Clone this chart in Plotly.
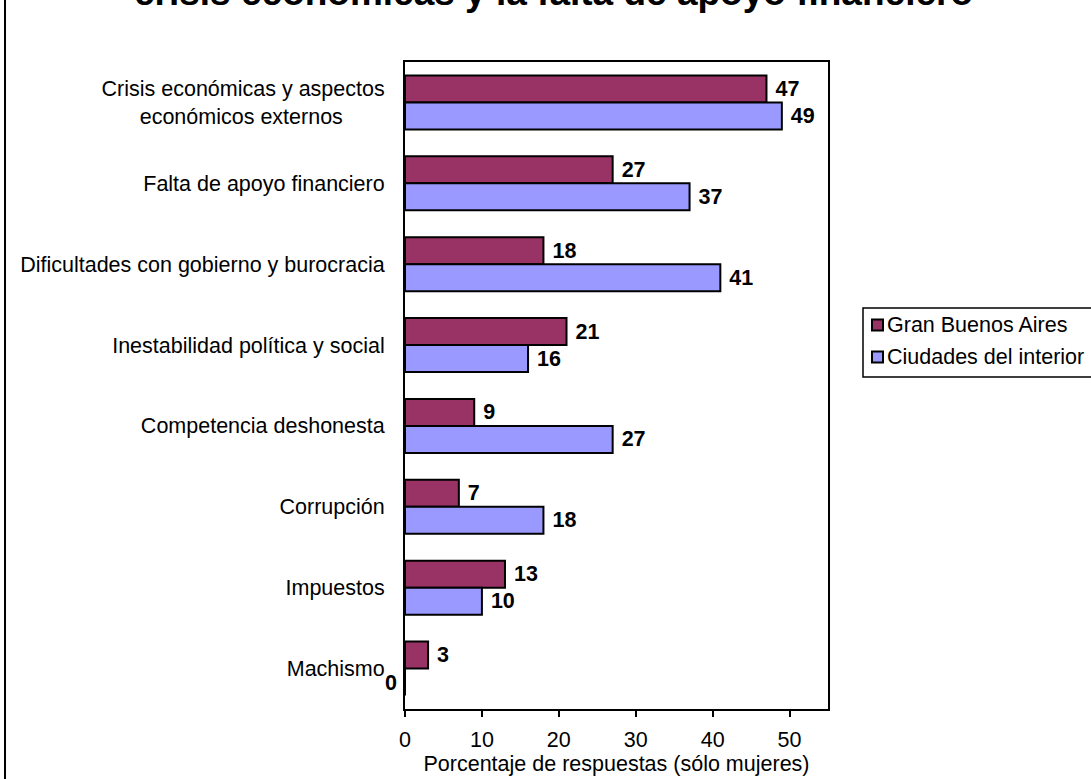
import plotly.graph_objects as go

# Obstacle categories, listed top to bottom
categorias = [
    "Crisis económicas y aspectos<br>económicos externos" + "&nbsp;" * 7,
    "Falta de apoyo financiero",
    "Dificultades con gobierno y burocracia",
    "Inestabilidad política y social",
    "Competencia deshonesta",
    "Corrupción",
    "Impuestos",
    "Machismo",
]
gran_buenos_aires = [47, 27, 18, 21, 9, 7, 13, 3]
ciudades_interior = [49, 37, 41, 16, 27, 18, 10, 0]
series = ["Gran Buenos Aires", "Ciudades del interior"]

FONT = "Arial, Liberation Sans, sans-serif"
FS = 21.5
COLORS = ["#993366", "#9999FF"]

# plot area in page pixels
L, R, T, B = 405, 828, 62, 709


def px(xp):
    return (xp - L) / (R - L)


def py(yp):
    return (B - yp) / (B - T)


def etiquetas(valores):
    # a leading space keeps the value clear of the bar end
    return [f" {v}" if v else "" for v in valores]


fig = go.Figure()
for name, vals, col in zip(series, [gran_buenos_aires, ciudades_interior], COLORS):
    fig.add_trace(go.Bar(
        y=categorias, x=vals, orientation="h", name=name,
        marker=dict(color=col, line=dict(color="black", width=2)),
        text=etiquetas(vals), textposition="outside",
        textfont=dict(family=FONT, size=FS, color="black", weight="bold"),
        cliponaxis=False,
    ))

# zero-valued bar: its label sits just left of the axis
for cat, v in zip(categorias, ciudades_interior):
    if v == 0:
        fig.add_annotation(
            x=v, y=cat, xref="x", yref="y", text=f"<b>{v}</b>",
            showarrow=False, xanchor="right", xshift=-6, yshift=-14,
            font=dict(family=FONT, size=FS, color="black"),
        )

# title, running off the top of the page
fig.add_annotation(
    x=px(553), y=py(15), xref="paper", yref="paper",
    text="<b>crisis económicas y la falta de apoyo financiero</b>",
    showarrow=False, xanchor="center", yanchor="bottom",
    font=dict(family=FONT, size=37, color="black"),
)

# outer frame edge on the left
fig.add_shape(
    type="line", xref="paper", yref="paper",
    x0=px(5), x1=px(5), y0=-0.2, y1=1.2,
    line=dict(color="black", width=2),
)

# legend box with swatches
fig.add_shape(
    type="rect", xref="paper", yref="paper",
    x0=px(863), x1=px(1110), y0=py(377), y1=py(308),
    line=dict(color="black", width=1.5), fillcolor="white",
)
for i, (name, col) in enumerate(zip(series, COLORS)):
    yc = 325 + 32 * i
    fig.add_shape(
        type="rect", xref="paper", yref="paper",
        x0=px(872), x1=px(883), y0=py(yc + 5.5), y1=py(yc - 5.5),
        line=dict(color="black", width=2), fillcolor=col,
    )
    fig.add_annotation(
        x=px(885), y=py(yc), xref="paper", yref="paper", text=name,
        showarrow=False, xanchor="left", yanchor="middle",
        font=dict(family=FONT, size=FS, color="black"),
    )

fig.update_layout(
    width=1091, height=779,
    margin=dict(l=L, r=1091 - R, t=T, b=779 - B),
    paper_bgcolor="white", plot_bgcolor="white",
    barmode="group", bargap=0.333, bargroupgap=0,
    font=dict(family=FONT, size=FS, color="black"),
    showlegend=False,
    xaxis=dict(
        range=[0, 55], dtick=10, tick0=0,
        showgrid=False, zeroline=False,
        showline=True, linecolor="black", linewidth=2, mirror=True,
        ticks="outside", ticklen=6, tickwidth=2, tickcolor="black",
        ticklabelstandoff=4,
        tickfont=dict(family=FONT, size=FS, color="black"),
        title=dict(text="Porcentaje de respuestas (sólo mujeres)",
                   font=dict(family=FONT, size=FS, color="black"), standoff=0),
    ),
    yaxis=dict(
        autorange="reversed",
        showgrid=False, zeroline=False,
        showline=True, linecolor="black", linewidth=2, mirror=True,
        ticks="", ticklabelstandoff=14,
        tickfont=dict(family=FONT, size=FS, color="black"),
    ),
)

fig.write_html("out.html")
